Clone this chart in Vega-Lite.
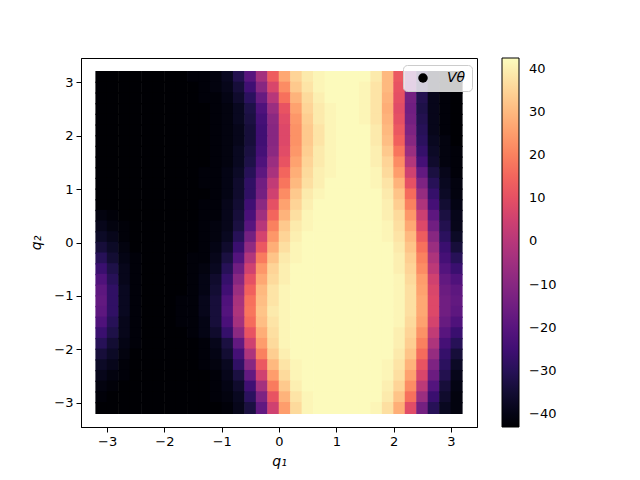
{
"$schema": "https://vega.github.io/schema/vega-lite/v6.json",
"width": 396, "height": 369,
"autosize": {"type": "none"},
"padding": {"left": 81, "top": 58, "right": 163, "bottom": 53},
"config": {
 "font": "DejaVu Sans",
 "view": {"stroke": "black", "strokeWidth": 1},
 "axis": {"grid": false, "domainColor": "black", "tickColor": "black", "tickSize": 5, "labelColor": "black", "labelFontSize": 13, "labelPadding": 3, "titleFontSize": 14, "titleFontWeight": "normal", "titleFontStyle": "italic", "titleColor": "black"}
},
"data": {"values": [
{"q1":-3.1,"q2":3.1,"v":-43},{"q1":-2.9,"q2":3.1,"v":-43},{"q1":-2.7,"q2":3.1,"v":-43},{"q1":-2.5,"q2":3.1,"v":-43},{"q1":-2.3,"q2":3.1,"v":-43},{"q1":-2.1,"q2":3.1,"v":-43},{"q1":-1.9,"q2":3.1,"v":-43},{"q1":-1.7,"q2":3.1,"v":-43},{"q1":-1.5,"q2":3.1,"v":-42},{"q1":-1.3,"q2":3.1,"v":-42},{"q1":-1.1,"q2":3.1,"v":-41},{"q1":-0.9,"q2":3.1,"v":-38},{"q1":-0.7,"q2":3.1,"v":-31},{"q1":-0.5,"q2":3.1,"v":-20},{"q1":-0.3,"q2":3.1,"v":-4},{"q1":-0.1,"q2":3.1,"v":13},{"q1":0.1,"q2":3.1,"v":27},{"q1":0.3,"q2":3.1,"v":35},{"q1":0.5,"q2":3.1,"v":39},{"q1":0.7,"q2":3.1,"v":41},{"q1":0.9,"q2":3.1,"v":42},{"q1":1.1,"q2":3.1,"v":42},{"q1":1.3,"q2":3.1,"v":42},{"q1":1.5,"q2":3.1,"v":42},{"q1":1.7,"q2":3.1,"v":39},{"q1":1.9,"q2":3.1,"v":30},{"q1":2.1,"q2":3.1,"v":12},{"q1":2.3,"q2":3.1,"v":-12},{"q1":2.5,"q2":3.1,"v":-30},{"q1":2.7,"q2":3.1,"v":-39},{"q1":2.9,"q2":3.1,"v":-42},{"q1":3.1,"q2":3.1,"v":-43},
{"q1":-3.1,"q2":2.9,"v":-43},{"q1":-2.9,"q2":2.9,"v":-43},{"q1":-2.7,"q2":2.9,"v":-43},{"q1":-2.5,"q2":2.9,"v":-43},{"q1":-2.3,"q2":2.9,"v":-43},{"q1":-2.1,"q2":2.9,"v":-43},{"q1":-1.9,"q2":2.9,"v":-43},{"q1":-1.7,"q2":2.9,"v":-43},{"q1":-1.5,"q2":2.9,"v":-43},{"q1":-1.3,"q2":2.9,"v":-42},{"q1":-1.1,"q2":2.9,"v":-41},{"q1":-0.9,"q2":2.9,"v":-39},{"q1":-0.7,"q2":2.9,"v":-34},{"q1":-0.5,"q2":2.9,"v":-25},{"q1":-0.3,"q2":2.9,"v":-10},{"q1":-0.1,"q2":2.9,"v":7},{"q1":0.1,"q2":2.9,"v":22},{"q1":0.3,"q2":2.9,"v":33},{"q1":0.5,"q2":2.9,"v":38},{"q1":0.7,"q2":2.9,"v":41},{"q1":0.9,"q2":2.9,"v":42},{"q1":1.1,"q2":2.9,"v":42},{"q1":1.3,"q2":2.9,"v":42},{"q1":1.5,"q2":2.9,"v":41},{"q1":1.7,"q2":2.9,"v":38},{"q1":1.9,"q2":2.9,"v":30},{"q1":2.1,"q2":2.9,"v":11},{"q1":2.3,"q2":2.9,"v":-13},{"q1":2.5,"q2":2.9,"v":-31},{"q1":2.7,"q2":2.9,"v":-39},{"q1":2.9,"q2":2.9,"v":-42},{"q1":3.1,"q2":2.9,"v":-43},
{"q1":-3.1,"q2":2.7,"v":-43},{"q1":-2.9,"q2":2.7,"v":-43},{"q1":-2.7,"q2":2.7,"v":-43},{"q1":-2.5,"q2":2.7,"v":-43},{"q1":-2.3,"q2":2.7,"v":-43},{"q1":-2.1,"q2":2.7,"v":-43},{"q1":-1.9,"q2":2.7,"v":-43},{"q1":-1.7,"q2":2.7,"v":-43},{"q1":-1.5,"q2":2.7,"v":-43},{"q1":-1.3,"q2":2.7,"v":-42},{"q1":-1.1,"q2":2.7,"v":-42},{"q1":-0.9,"q2":2.7,"v":-40},{"q1":-0.7,"q2":2.7,"v":-36},{"q1":-0.5,"q2":2.7,"v":-29},{"q1":-0.3,"q2":2.7,"v":-17},{"q1":-0.1,"q2":2.7,"v":0},{"q1":0.1,"q2":2.7,"v":17},{"q1":0.3,"q2":2.7,"v":29},{"q1":0.5,"q2":2.7,"v":36},{"q1":0.7,"q2":2.7,"v":40},{"q1":0.9,"q2":2.7,"v":42},{"q1":1.1,"q2":2.7,"v":42},{"q1":1.3,"q2":2.7,"v":42},{"q1":1.5,"q2":2.7,"v":41},{"q1":1.7,"q2":2.7,"v":38},{"q1":1.9,"q2":2.7,"v":29},{"q1":2.1,"q2":2.7,"v":10},{"q1":2.3,"q2":2.7,"v":-14},{"q1":2.5,"q2":2.7,"v":-31},{"q1":2.7,"q2":2.7,"v":-39},{"q1":2.9,"q2":2.7,"v":-42},{"q1":3.1,"q2":2.7,"v":-43},
{"q1":-3.1,"q2":2.5,"v":-43},{"q1":-2.9,"q2":2.5,"v":-43},{"q1":-2.7,"q2":2.5,"v":-43},{"q1":-2.5,"q2":2.5,"v":-43},{"q1":-2.3,"q2":2.5,"v":-43},{"q1":-2.1,"q2":2.5,"v":-43},{"q1":-1.9,"q2":2.5,"v":-43},{"q1":-1.7,"q2":2.5,"v":-43},{"q1":-1.5,"q2":2.5,"v":-43},{"q1":-1.3,"q2":2.5,"v":-43},{"q1":-1.1,"q2":2.5,"v":-42},{"q1":-0.9,"q2":2.5,"v":-41},{"q1":-0.7,"q2":2.5,"v":-38},{"q1":-0.5,"q2":2.5,"v":-32},{"q1":-0.3,"q2":2.5,"v":-22},{"q1":-0.1,"q2":2.5,"v":-6},{"q1":0.1,"q2":2.5,"v":11},{"q1":0.3,"q2":2.5,"v":26},{"q1":0.5,"q2":2.5,"v":35},{"q1":0.7,"q2":2.5,"v":39},{"q1":0.9,"q2":2.5,"v":41},{"q1":1.1,"q2":2.5,"v":42},{"q1":1.3,"q2":2.5,"v":42},{"q1":1.5,"q2":2.5,"v":41},{"q1":1.7,"q2":2.5,"v":38},{"q1":1.9,"q2":2.5,"v":28},{"q1":2.1,"q2":2.5,"v":9},{"q1":2.3,"q2":2.5,"v":-15},{"q1":2.5,"q2":2.5,"v":-32},{"q1":2.7,"q2":2.5,"v":-39},{"q1":2.9,"q2":2.5,"v":-42},{"q1":3.1,"q2":2.5,"v":-43},
{"q1":-3.1,"q2":2.3,"v":-43},{"q1":-2.9,"q2":2.3,"v":-43},{"q1":-2.7,"q2":2.3,"v":-43},{"q1":-2.5,"q2":2.3,"v":-43},{"q1":-2.3,"q2":2.3,"v":-43},{"q1":-2.1,"q2":2.3,"v":-43},{"q1":-1.9,"q2":2.3,"v":-43},{"q1":-1.7,"q2":2.3,"v":-43},{"q1":-1.5,"q2":2.3,"v":-43},{"q1":-1.3,"q2":2.3,"v":-43},{"q1":-1.1,"q2":2.3,"v":-42},{"q1":-0.9,"q2":2.3,"v":-41},{"q1":-0.7,"q2":2.3,"v":-38},{"q1":-0.5,"q2":2.3,"v":-33},{"q1":-0.3,"q2":2.3,"v":-24},{"q1":-0.1,"q2":2.3,"v":-9},{"q1":0.1,"q2":2.3,"v":9},{"q1":0.3,"q2":2.3,"v":24},{"q1":0.5,"q2":2.3,"v":34},{"q1":0.7,"q2":2.3,"v":39},{"q1":0.9,"q2":2.3,"v":41},{"q1":1.1,"q2":2.3,"v":42},{"q1":1.3,"q2":2.3,"v":42},{"q1":1.5,"q2":2.3,"v":41},{"q1":1.7,"q2":2.3,"v":38},{"q1":1.9,"q2":2.3,"v":29},{"q1":2.1,"q2":2.3,"v":10},{"q1":2.3,"q2":2.3,"v":-14},{"q1":2.5,"q2":2.3,"v":-31},{"q1":2.7,"q2":2.3,"v":-39},{"q1":2.9,"q2":2.3,"v":-42},{"q1":3.1,"q2":2.3,"v":-43},
{"q1":-3.1,"q2":2.1,"v":-43},{"q1":-2.9,"q2":2.1,"v":-43},{"q1":-2.7,"q2":2.1,"v":-43},{"q1":-2.5,"q2":2.1,"v":-43},{"q1":-2.3,"q2":2.1,"v":-43},{"q1":-2.1,"q2":2.1,"v":-43},{"q1":-1.9,"q2":2.1,"v":-43},{"q1":-1.7,"q2":2.1,"v":-43},{"q1":-1.5,"q2":2.1,"v":-43},{"q1":-1.3,"q2":2.1,"v":-43},{"q1":-1.1,"q2":2.1,"v":-42},{"q1":-0.9,"q2":2.1,"v":-41},{"q1":-0.7,"q2":2.1,"v":-39},{"q1":-0.5,"q2":2.1,"v":-34},{"q1":-0.3,"q2":2.1,"v":-25},{"q1":-0.1,"q2":2.1,"v":-10},{"q1":0.1,"q2":2.1,"v":8},{"q1":0.3,"q2":2.1,"v":23},{"q1":0.5,"q2":2.1,"v":33},{"q1":0.7,"q2":2.1,"v":38},{"q1":0.9,"q2":2.1,"v":41},{"q1":1.1,"q2":2.1,"v":42},{"q1":1.3,"q2":2.1,"v":42},{"q1":1.5,"q2":2.1,"v":42},{"q1":1.7,"q2":2.1,"v":39},{"q1":1.9,"q2":2.1,"v":30},{"q1":2.1,"q2":2.1,"v":12},{"q1":2.3,"q2":2.1,"v":-12},{"q1":2.5,"q2":2.1,"v":-30},{"q1":2.7,"q2":2.1,"v":-39},{"q1":2.9,"q2":2.1,"v":-42},{"q1":3.1,"q2":2.1,"v":-43},
{"q1":-3.1,"q2":1.9,"v":-43},{"q1":-2.9,"q2":1.9,"v":-43},{"q1":-2.7,"q2":1.9,"v":-43},{"q1":-2.5,"q2":1.9,"v":-43},{"q1":-2.3,"q2":1.9,"v":-43},{"q1":-2.1,"q2":1.9,"v":-43},{"q1":-1.9,"q2":1.9,"v":-43},{"q1":-1.7,"q2":1.9,"v":-43},{"q1":-1.5,"q2":1.9,"v":-43},{"q1":-1.3,"q2":1.9,"v":-43},{"q1":-1.1,"q2":1.9,"v":-42},{"q1":-0.9,"q2":1.9,"v":-41},{"q1":-0.7,"q2":1.9,"v":-39},{"q1":-0.5,"q2":1.9,"v":-34},{"q1":-0.3,"q2":1.9,"v":-25},{"q1":-0.1,"q2":1.9,"v":-10},{"q1":0.1,"q2":1.9,"v":8},{"q1":0.3,"q2":1.9,"v":23},{"q1":0.5,"q2":1.9,"v":33},{"q1":0.7,"q2":1.9,"v":38},{"q1":0.9,"q2":1.9,"v":41},{"q1":1.1,"q2":1.9,"v":42},{"q1":1.3,"q2":1.9,"v":42},{"q1":1.5,"q2":1.9,"v":42},{"q1":1.7,"q2":1.9,"v":39},{"q1":1.9,"q2":1.9,"v":31},{"q1":2.1,"q2":1.9,"v":14},{"q1":2.3,"q2":1.9,"v":-10},{"q1":2.5,"q2":1.9,"v":-29},{"q1":2.7,"q2":1.9,"v":-38},{"q1":2.9,"q2":1.9,"v":-41},{"q1":3.1,"q2":1.9,"v":-43},
{"q1":-3.1,"q2":1.7,"v":-43},{"q1":-2.9,"q2":1.7,"v":-43},{"q1":-2.7,"q2":1.7,"v":-43},{"q1":-2.5,"q2":1.7,"v":-43},{"q1":-2.3,"q2":1.7,"v":-43},{"q1":-2.1,"q2":1.7,"v":-43},{"q1":-1.9,"q2":1.7,"v":-43},{"q1":-1.7,"q2":1.7,"v":-43},{"q1":-1.5,"q2":1.7,"v":-43},{"q1":-1.3,"q2":1.7,"v":-43},{"q1":-1.1,"q2":1.7,"v":-42},{"q1":-0.9,"q2":1.7,"v":-41},{"q1":-0.7,"q2":1.7,"v":-38},{"q1":-0.5,"q2":1.7,"v":-33},{"q1":-0.3,"q2":1.7,"v":-24},{"q1":-0.1,"q2":1.7,"v":-9},{"q1":0.1,"q2":1.7,"v":9},{"q1":0.3,"q2":1.7,"v":24},{"q1":0.5,"q2":1.7,"v":34},{"q1":0.7,"q2":1.7,"v":39},{"q1":0.9,"q2":1.7,"v":41},{"q1":1.1,"q2":1.7,"v":42},{"q1":1.3,"q2":1.7,"v":42},{"q1":1.5,"q2":1.7,"v":42},{"q1":1.7,"q2":1.7,"v":40},{"q1":1.9,"q2":1.7,"v":33},{"q1":2.1,"q2":1.7,"v":18},{"q1":2.3,"q2":1.7,"v":-6},{"q1":2.5,"q2":1.7,"v":-27},{"q1":2.7,"q2":1.7,"v":-37},{"q1":2.9,"q2":1.7,"v":-41},{"q1":3.1,"q2":1.7,"v":-42},
{"q1":-3.1,"q2":1.5,"v":-43},{"q1":-2.9,"q2":1.5,"v":-43},{"q1":-2.7,"q2":1.5,"v":-43},{"q1":-2.5,"q2":1.5,"v":-43},{"q1":-2.3,"q2":1.5,"v":-43},{"q1":-2.1,"q2":1.5,"v":-43},{"q1":-1.9,"q2":1.5,"v":-43},{"q1":-1.7,"q2":1.5,"v":-43},{"q1":-1.5,"q2":1.5,"v":-43},{"q1":-1.3,"q2":1.5,"v":-43},{"q1":-1.1,"q2":1.5,"v":-42},{"q1":-0.9,"q2":1.5,"v":-41},{"q1":-0.7,"q2":1.5,"v":-38},{"q1":-0.5,"q2":1.5,"v":-32},{"q1":-0.3,"q2":1.5,"v":-22},{"q1":-0.1,"q2":1.5,"v":-6},{"q1":0.1,"q2":1.5,"v":11},{"q1":0.3,"q2":1.5,"v":26},{"q1":0.5,"q2":1.5,"v":35},{"q1":0.7,"q2":1.5,"v":39},{"q1":0.9,"q2":1.5,"v":41},{"q1":1.1,"q2":1.5,"v":42},{"q1":1.3,"q2":1.5,"v":42},{"q1":1.5,"q2":1.5,"v":42},{"q1":1.7,"q2":1.5,"v":40},{"q1":1.9,"q2":1.5,"v":35},{"q1":2.1,"q2":1.5,"v":22},{"q1":2.3,"q2":1.5,"v":-1},{"q1":2.5,"q2":1.5,"v":-24},{"q1":2.7,"q2":1.5,"v":-36},{"q1":2.9,"q2":1.5,"v":-41},{"q1":3.1,"q2":1.5,"v":-42},
{"q1":-3.1,"q2":1.3,"v":-43},{"q1":-2.9,"q2":1.3,"v":-43},{"q1":-2.7,"q2":1.3,"v":-43},{"q1":-2.5,"q2":1.3,"v":-43},{"q1":-2.3,"q2":1.3,"v":-43},{"q1":-2.1,"q2":1.3,"v":-43},{"q1":-1.9,"q2":1.3,"v":-43},{"q1":-1.7,"q2":1.3,"v":-43},{"q1":-1.5,"q2":1.3,"v":-43},{"q1":-1.3,"q2":1.3,"v":-42},{"q1":-1.1,"q2":1.3,"v":-42},{"q1":-0.9,"q2":1.3,"v":-40},{"q1":-0.7,"q2":1.3,"v":-37},{"q1":-0.5,"q2":1.3,"v":-30},{"q1":-0.3,"q2":1.3,"v":-19},{"q1":-0.1,"q2":1.3,"v":-3},{"q1":0.1,"q2":1.3,"v":15},{"q1":0.3,"q2":1.3,"v":28},{"q1":0.5,"q2":1.3,"v":36},{"q1":0.7,"q2":1.3,"v":40},{"q1":0.9,"q2":1.3,"v":41},{"q1":1.1,"q2":1.3,"v":42},{"q1":1.3,"q2":1.3,"v":42},{"q1":1.5,"q2":1.3,"v":42},{"q1":1.7,"q2":1.3,"v":41},{"q1":1.9,"q2":1.3,"v":36},{"q1":2.1,"q2":1.3,"v":25},{"q1":2.3,"q2":1.3,"v":5},{"q1":2.5,"q2":1.3,"v":-18},{"q1":2.7,"q2":1.3,"v":-33},{"q1":2.9,"q2":1.3,"v":-39},{"q1":3.1,"q2":1.3,"v":-42},
{"q1":-3.1,"q2":1.1,"v":-43},{"q1":-2.9,"q2":1.1,"v":-43},{"q1":-2.7,"q2":1.1,"v":-43},{"q1":-2.5,"q2":1.1,"v":-43},{"q1":-2.3,"q2":1.1,"v":-43},{"q1":-2.1,"q2":1.1,"v":-43},{"q1":-1.9,"q2":1.1,"v":-43},{"q1":-1.7,"q2":1.1,"v":-43},{"q1":-1.5,"q2":1.1,"v":-43},{"q1":-1.3,"q2":1.1,"v":-42},{"q1":-1.1,"q2":1.1,"v":-42},{"q1":-0.9,"q2":1.1,"v":-40},{"q1":-0.7,"q2":1.1,"v":-36},{"q1":-0.5,"q2":1.1,"v":-28},{"q1":-0.3,"q2":1.1,"v":-15},{"q1":-0.1,"q2":1.1,"v":2},{"q1":0.1,"q2":1.1,"v":18},{"q1":0.3,"q2":1.1,"v":30},{"q1":0.5,"q2":1.1,"v":37},{"q1":0.7,"q2":1.1,"v":40},{"q1":0.9,"q2":1.1,"v":42},{"q1":1.1,"q2":1.1,"v":42},{"q1":1.3,"q2":1.1,"v":42},{"q1":1.5,"q2":1.1,"v":42},{"q1":1.7,"q2":1.1,"v":41},{"q1":1.9,"q2":1.1,"v":38},{"q1":2.1,"q2":1.1,"v":29},{"q1":2.3,"q2":1.1,"v":10},{"q1":2.5,"q2":1.1,"v":-12},{"q1":2.7,"q2":1.1,"v":-30},{"q1":2.9,"q2":1.1,"v":-38},{"q1":3.1,"q2":1.1,"v":-41},
{"q1":-3.1,"q2":0.9,"v":-43},{"q1":-2.9,"q2":0.9,"v":-43},{"q1":-2.7,"q2":0.9,"v":-43},{"q1":-2.5,"q2":0.9,"v":-43},{"q1":-2.3,"q2":0.9,"v":-43},{"q1":-2.1,"q2":0.9,"v":-43},{"q1":-1.9,"q2":0.9,"v":-43},{"q1":-1.7,"q2":0.9,"v":-43},{"q1":-1.5,"q2":0.9,"v":-43},{"q1":-1.3,"q2":0.9,"v":-43},{"q1":-1.1,"q2":0.9,"v":-42},{"q1":-0.9,"q2":0.9,"v":-40},{"q1":-0.7,"q2":0.9,"v":-36},{"q1":-0.5,"q2":0.9,"v":-28},{"q1":-0.3,"q2":0.9,"v":-14},{"q1":-0.1,"q2":0.9,"v":5},{"q1":0.1,"q2":0.9,"v":22},{"q1":0.3,"q2":0.9,"v":33},{"q1":0.5,"q2":0.9,"v":39},{"q1":0.7,"q2":0.9,"v":41},{"q1":0.9,"q2":0.9,"v":42},{"q1":1.1,"q2":0.9,"v":42},{"q1":1.3,"q2":0.9,"v":42},{"q1":1.5,"q2":0.9,"v":42},{"q1":1.7,"q2":0.9,"v":42},{"q1":1.9,"q2":0.9,"v":39},{"q1":2.1,"q2":0.9,"v":32},{"q1":2.3,"q2":0.9,"v":16},{"q1":2.5,"q2":0.9,"v":-7},{"q1":2.7,"q2":0.9,"v":-27},{"q1":2.9,"q2":0.9,"v":-37},{"q1":3.1,"q2":0.9,"v":-41},
{"q1":-3.1,"q2":0.7,"v":-43},{"q1":-2.9,"q2":0.7,"v":-43},{"q1":-2.7,"q2":0.7,"v":-43},{"q1":-2.5,"q2":0.7,"v":-43},{"q1":-2.3,"q2":0.7,"v":-43},{"q1":-2.1,"q2":0.7,"v":-43},{"q1":-1.9,"q2":0.7,"v":-43},{"q1":-1.7,"q2":0.7,"v":-43},{"q1":-1.5,"q2":0.7,"v":-43},{"q1":-1.3,"q2":0.7,"v":-42},{"q1":-1.1,"q2":0.7,"v":-42},{"q1":-0.9,"q2":0.7,"v":-39},{"q1":-0.7,"q2":0.7,"v":-35},{"q1":-0.5,"q2":0.7,"v":-25},{"q1":-0.3,"q2":0.7,"v":-9},{"q1":-0.1,"q2":0.7,"v":10},{"q1":0.1,"q2":0.7,"v":26},{"q1":0.3,"q2":0.7,"v":35},{"q1":0.5,"q2":0.7,"v":40},{"q1":0.7,"q2":0.7,"v":42},{"q1":0.9,"q2":0.7,"v":42},{"q1":1.1,"q2":0.7,"v":42},{"q1":1.3,"q2":0.7,"v":42},{"q1":1.5,"q2":0.7,"v":42},{"q1":1.7,"q2":0.7,"v":42},{"q1":1.9,"q2":0.7,"v":40},{"q1":2.1,"q2":0.7,"v":34},{"q1":2.3,"q2":0.7,"v":20},{"q1":2.5,"q2":0.7,"v":-2},{"q1":2.7,"q2":0.7,"v":-24},{"q1":2.9,"q2":0.7,"v":-35},{"q1":3.1,"q2":0.7,"v":-40},
{"q1":-3.1,"q2":0.5,"v":-41},{"q1":-2.9,"q2":0.5,"v":-42},{"q1":-2.7,"q2":0.5,"v":-43},{"q1":-2.5,"q2":0.5,"v":-43},{"q1":-2.3,"q2":0.5,"v":-43},{"q1":-2.1,"q2":0.5,"v":-43},{"q1":-1.9,"q2":0.5,"v":-43},{"q1":-1.7,"q2":0.5,"v":-43},{"q1":-1.5,"q2":0.5,"v":-43},{"q1":-1.3,"q2":0.5,"v":-42},{"q1":-1.1,"q2":0.5,"v":-42},{"q1":-0.9,"q2":0.5,"v":-39},{"q1":-0.7,"q2":0.5,"v":-34},{"q1":-0.5,"q2":0.5,"v":-23},{"q1":-0.3,"q2":0.5,"v":-5},{"q1":-0.1,"q2":0.5,"v":15},{"q1":0.1,"q2":0.5,"v":29},{"q1":0.3,"q2":0.5,"v":37},{"q1":0.5,"q2":0.5,"v":41},{"q1":0.7,"q2":0.5,"v":42},{"q1":0.9,"q2":0.5,"v":42},{"q1":1.1,"q2":0.5,"v":42},{"q1":1.3,"q2":0.5,"v":42},{"q1":1.5,"q2":0.5,"v":42},{"q1":1.7,"q2":0.5,"v":42},{"q1":1.9,"q2":0.5,"v":40},{"q1":2.1,"q2":0.5,"v":36},{"q1":2.3,"q2":0.5,"v":24},{"q1":2.5,"q2":0.5,"v":4},{"q1":2.7,"q2":0.5,"v":-19},{"q1":2.9,"q2":0.5,"v":-33},{"q1":3.1,"q2":0.5,"v":-39},
{"q1":-3.1,"q2":0.3,"v":-39},{"q1":-2.9,"q2":0.3,"v":-41},{"q1":-2.7,"q2":0.3,"v":-42},{"q1":-2.5,"q2":0.3,"v":-43},{"q1":-2.3,"q2":0.3,"v":-43},{"q1":-2.1,"q2":0.3,"v":-43},{"q1":-1.9,"q2":0.3,"v":-43},{"q1":-1.7,"q2":0.3,"v":-43},{"q1":-1.5,"q2":0.3,"v":-43},{"q1":-1.3,"q2":0.3,"v":-42},{"q1":-1.1,"q2":0.3,"v":-41},{"q1":-0.9,"q2":0.3,"v":-39},{"q1":-0.7,"q2":0.3,"v":-33},{"q1":-0.5,"q2":0.3,"v":-20},{"q1":-0.3,"q2":0.3,"v":0},{"q1":-0.1,"q2":0.3,"v":20},{"q1":0.1,"q2":0.3,"v":33},{"q1":0.3,"q2":0.3,"v":39},{"q1":0.5,"q2":0.3,"v":41},{"q1":0.7,"q2":0.3,"v":42},{"q1":0.9,"q2":0.3,"v":42},{"q1":1.1,"q2":0.3,"v":42},{"q1":1.3,"q2":0.3,"v":42},{"q1":1.5,"q2":0.3,"v":42},{"q1":1.7,"q2":0.3,"v":42},{"q1":1.9,"q2":0.3,"v":41},{"q1":2.1,"q2":0.3,"v":37},{"q1":2.3,"q2":0.3,"v":27},{"q1":2.5,"q2":0.3,"v":8},{"q1":2.7,"q2":0.3,"v":-15},{"q1":2.9,"q2":0.3,"v":-31},{"q1":3.1,"q2":0.3,"v":-39},
{"q1":-3.1,"q2":0.1,"v":-37},{"q1":-2.9,"q2":0.1,"v":-39},{"q1":-2.7,"q2":0.1,"v":-42},{"q1":-2.5,"q2":0.1,"v":-43},{"q1":-2.3,"q2":0.1,"v":-43},{"q1":-2.1,"q2":0.1,"v":-43},{"q1":-1.9,"q2":0.1,"v":-43},{"q1":-1.7,"q2":0.1,"v":-43},{"q1":-1.5,"q2":0.1,"v":-43},{"q1":-1.3,"q2":0.1,"v":-42},{"q1":-1.1,"q2":0.1,"v":-41},{"q1":-0.9,"q2":0.1,"v":-38},{"q1":-0.7,"q2":0.1,"v":-30},{"q1":-0.5,"q2":0.1,"v":-14},{"q1":-0.3,"q2":0.1,"v":6},{"q1":-0.1,"q2":0.1,"v":24},{"q1":0.1,"q2":0.1,"v":35},{"q1":0.3,"q2":0.1,"v":40},{"q1":0.5,"q2":0.1,"v":42},{"q1":0.7,"q2":0.1,"v":42},{"q1":0.9,"q2":0.1,"v":42},{"q1":1.1,"q2":0.1,"v":42},{"q1":1.3,"q2":0.1,"v":42},{"q1":1.5,"q2":0.1,"v":42},{"q1":1.7,"q2":0.1,"v":42},{"q1":1.9,"q2":0.1,"v":41},{"q1":2.1,"q2":0.1,"v":38},{"q1":2.3,"q2":0.1,"v":30},{"q1":2.5,"q2":0.1,"v":13},{"q1":2.7,"q2":0.1,"v":-10},{"q1":2.9,"q2":0.1,"v":-29},{"q1":3.1,"q2":0.1,"v":-37},
{"q1":-3.1,"q2":-0.1,"v":-34},{"q1":-2.9,"q2":-0.1,"v":-37},{"q1":-2.7,"q2":-0.1,"v":-41},{"q1":-2.5,"q2":-0.1,"v":-43},{"q1":-2.3,"q2":-0.1,"v":-43},{"q1":-2.1,"q2":-0.1,"v":-43},{"q1":-1.9,"q2":-0.1,"v":-43},{"q1":-1.7,"q2":-0.1,"v":-43},{"q1":-1.5,"q2":-0.1,"v":-43},{"q1":-1.3,"q2":-0.1,"v":-42},{"q1":-1.1,"q2":-0.1,"v":-40},{"q1":-0.9,"q2":-0.1,"v":-36},{"q1":-0.7,"q2":-0.1,"v":-26},{"q1":-0.5,"q2":-0.1,"v":-8},{"q1":-0.3,"q2":-0.1,"v":12},{"q1":-0.1,"q2":-0.1,"v":28},{"q1":0.1,"q2":-0.1,"v":37},{"q1":0.3,"q2":-0.1,"v":41},{"q1":0.5,"q2":-0.1,"v":42},{"q1":0.7,"q2":-0.1,"v":42},{"q1":0.9,"q2":-0.1,"v":42},{"q1":1.1,"q2":-0.1,"v":42},{"q1":1.3,"q2":-0.1,"v":42},{"q1":1.5,"q2":-0.1,"v":42},{"q1":1.7,"q2":-0.1,"v":42},{"q1":1.9,"q2":-0.1,"v":42},{"q1":2.1,"q2":-0.1,"v":39},{"q1":2.3,"q2":-0.1,"v":32},{"q1":2.5,"q2":-0.1,"v":17},{"q1":2.7,"q2":-0.1,"v":-6},{"q1":2.9,"q2":-0.1,"v":-26},{"q1":3.1,"q2":-0.1,"v":-34},
{"q1":-3.1,"q2":-0.3,"v":-30},{"q1":-2.9,"q2":-0.3,"v":-35},{"q1":-2.7,"q2":-0.3,"v":-40},{"q1":-2.5,"q2":-0.3,"v":-42},{"q1":-2.3,"q2":-0.3,"v":-43},{"q1":-2.1,"q2":-0.3,"v":-43},{"q1":-1.9,"q2":-0.3,"v":-43},{"q1":-1.7,"q2":-0.3,"v":-43},{"q1":-1.5,"q2":-0.3,"v":-42},{"q1":-1.3,"q2":-0.3,"v":-42},{"q1":-1.1,"q2":-0.3,"v":-39},{"q1":-0.9,"q2":-0.3,"v":-33},{"q1":-0.7,"q2":-0.3,"v":-21},{"q1":-0.5,"q2":-0.3,"v":-1},{"q1":-0.3,"q2":-0.3,"v":19},{"q1":-0.1,"q2":-0.3,"v":32},{"q1":0.1,"q2":-0.3,"v":39},{"q1":0.3,"q2":-0.3,"v":41},{"q1":0.5,"q2":-0.3,"v":42},{"q1":0.7,"q2":-0.3,"v":42},{"q1":0.9,"q2":-0.3,"v":42},{"q1":1.1,"q2":-0.3,"v":42},{"q1":1.3,"q2":-0.3,"v":42},{"q1":1.5,"q2":-0.3,"v":42},{"q1":1.7,"q2":-0.3,"v":42},{"q1":1.9,"q2":-0.3,"v":42},{"q1":2.1,"q2":-0.3,"v":40},{"q1":2.3,"q2":-0.3,"v":34},{"q1":2.5,"q2":-0.3,"v":20},{"q1":2.7,"q2":-0.3,"v":-2},{"q1":2.9,"q2":-0.3,"v":-24},{"q1":3.1,"q2":-0.3,"v":-30},
{"q1":-3.1,"q2":-0.5,"v":-26},{"q1":-2.9,"q2":-0.5,"v":-32},{"q1":-2.7,"q2":-0.5,"v":-39},{"q1":-2.5,"q2":-0.5,"v":-42},{"q1":-2.3,"q2":-0.5,"v":-43},{"q1":-2.1,"q2":-0.5,"v":-43},{"q1":-1.9,"q2":-0.5,"v":-43},{"q1":-1.7,"q2":-0.5,"v":-43},{"q1":-1.5,"q2":-0.5,"v":-42},{"q1":-1.3,"q2":-0.5,"v":-41},{"q1":-1.1,"q2":-0.5,"v":-38},{"q1":-0.9,"q2":-0.5,"v":-30},{"q1":-0.7,"q2":-0.5,"v":-15},{"q1":-0.5,"q2":-0.5,"v":5},{"q1":-0.3,"q2":-0.5,"v":24},{"q1":-0.1,"q2":-0.5,"v":35},{"q1":0.1,"q2":-0.5,"v":40},{"q1":0.3,"q2":-0.5,"v":42},{"q1":0.5,"q2":-0.5,"v":42},{"q1":0.7,"q2":-0.5,"v":42},{"q1":0.9,"q2":-0.5,"v":42},{"q1":1.1,"q2":-0.5,"v":42},{"q1":1.3,"q2":-0.5,"v":42},{"q1":1.5,"q2":-0.5,"v":42},{"q1":1.7,"q2":-0.5,"v":42},{"q1":1.9,"q2":-0.5,"v":42},{"q1":2.1,"q2":-0.5,"v":40},{"q1":2.3,"q2":-0.5,"v":35},{"q1":2.5,"q2":-0.5,"v":22},{"q1":2.7,"q2":-0.5,"v":1},{"q1":2.9,"q2":-0.5,"v":-21},{"q1":3.1,"q2":-0.5,"v":-26},
{"q1":-3.1,"q2":-0.7,"v":-22},{"q1":-2.9,"q2":-0.7,"v":-30},{"q1":-2.7,"q2":-0.7,"v":-39},{"q1":-2.5,"q2":-0.7,"v":-42},{"q1":-2.3,"q2":-0.7,"v":-43},{"q1":-2.1,"q2":-0.7,"v":-43},{"q1":-1.9,"q2":-0.7,"v":-43},{"q1":-1.7,"q2":-0.7,"v":-43},{"q1":-1.5,"q2":-0.7,"v":-42},{"q1":-1.3,"q2":-0.7,"v":-40},{"q1":-1.1,"q2":-0.7,"v":-36},{"q1":-0.9,"q2":-0.7,"v":-27},{"q1":-0.7,"q2":-0.7,"v":-10},{"q1":-0.5,"q2":-0.7,"v":10},{"q1":-0.3,"q2":-0.7,"v":27},{"q1":-0.1,"q2":-0.7,"v":36},{"q1":0.1,"q2":-0.7,"v":40},{"q1":0.3,"q2":-0.7,"v":42},{"q1":0.5,"q2":-0.7,"v":42},{"q1":0.7,"q2":-0.7,"v":42},{"q1":0.9,"q2":-0.7,"v":42},{"q1":1.1,"q2":-0.7,"v":42},{"q1":1.3,"q2":-0.7,"v":42},{"q1":1.5,"q2":-0.7,"v":42},{"q1":1.7,"q2":-0.7,"v":42},{"q1":1.9,"q2":-0.7,"v":42},{"q1":2.1,"q2":-0.7,"v":41},{"q1":2.3,"q2":-0.7,"v":36},{"q1":2.5,"q2":-0.7,"v":25},{"q1":2.7,"q2":-0.7,"v":5},{"q1":2.9,"q2":-0.7,"v":-18},{"q1":3.1,"q2":-0.7,"v":-22},
{"q1":-3.1,"q2":-0.9,"v":-19},{"q1":-2.9,"q2":-0.9,"v":-28},{"q1":-2.7,"q2":-0.9,"v":-38},{"q1":-2.5,"q2":-0.9,"v":-42},{"q1":-2.3,"q2":-0.9,"v":-43},{"q1":-2.1,"q2":-0.9,"v":-43},{"q1":-1.9,"q2":-0.9,"v":-43},{"q1":-1.7,"q2":-0.9,"v":-43},{"q1":-1.5,"q2":-0.9,"v":-42},{"q1":-1.3,"q2":-0.9,"v":-40},{"q1":-1.1,"q2":-0.9,"v":-35},{"q1":-0.9,"q2":-0.9,"v":-25},{"q1":-0.7,"q2":-0.9,"v":-6},{"q1":-0.5,"q2":-0.9,"v":14},{"q1":-0.3,"q2":-0.9,"v":30},{"q1":-0.1,"q2":-0.9,"v":38},{"q1":0.1,"q2":-0.9,"v":41},{"q1":0.3,"q2":-0.9,"v":42},{"q1":0.5,"q2":-0.9,"v":42},{"q1":0.7,"q2":-0.9,"v":42},{"q1":0.9,"q2":-0.9,"v":42},{"q1":1.1,"q2":-0.9,"v":42},{"q1":1.3,"q2":-0.9,"v":42},{"q1":1.5,"q2":-0.9,"v":42},{"q1":1.7,"q2":-0.9,"v":42},{"q1":1.9,"q2":-0.9,"v":42},{"q1":2.1,"q2":-0.9,"v":41},{"q1":2.3,"q2":-0.9,"v":37},{"q1":2.5,"q2":-0.9,"v":26},{"q1":2.7,"q2":-0.9,"v":7},{"q1":2.9,"q2":-0.9,"v":-16},{"q1":3.1,"q2":-0.9,"v":-19},
{"q1":-3.1,"q2":-1.1,"v":-18},{"q1":-2.9,"q2":-1.1,"v":-28},{"q1":-2.7,"q2":-1.1,"v":-38},{"q1":-2.5,"q2":-1.1,"v":-42},{"q1":-2.3,"q2":-1.1,"v":-43},{"q1":-2.1,"q2":-1.1,"v":-43},{"q1":-1.9,"q2":-1.1,"v":-43},{"q1":-1.7,"q2":-1.1,"v":-42},{"q1":-1.5,"q2":-1.1,"v":-42},{"q1":-1.3,"q2":-1.1,"v":-39},{"q1":-1.1,"q2":-1.1,"v":-34},{"q1":-0.9,"q2":-1.1,"v":-22},{"q1":-0.7,"q2":-1.1,"v":-3},{"q1":-0.5,"q2":-1.1,"v":17},{"q1":-0.3,"q2":-1.1,"v":31},{"q1":-0.1,"q2":-1.1,"v":38},{"q1":0.1,"q2":-1.1,"v":41},{"q1":0.3,"q2":-1.1,"v":42},{"q1":0.5,"q2":-1.1,"v":42},{"q1":0.7,"q2":-1.1,"v":42},{"q1":0.9,"q2":-1.1,"v":42},{"q1":1.1,"q2":-1.1,"v":42},{"q1":1.3,"q2":-1.1,"v":42},{"q1":1.5,"q2":-1.1,"v":42},{"q1":1.7,"q2":-1.1,"v":42},{"q1":1.9,"q2":-1.1,"v":42},{"q1":2.1,"q2":-1.1,"v":41},{"q1":2.3,"q2":-1.1,"v":37},{"q1":2.5,"q2":-1.1,"v":27},{"q1":2.7,"q2":-1.1,"v":8},{"q1":2.9,"q2":-1.1,"v":-15},{"q1":3.1,"q2":-1.1,"v":-18},
{"q1":-3.1,"q2":-1.3,"v":-19},{"q1":-2.9,"q2":-1.3,"v":-28},{"q1":-2.7,"q2":-1.3,"v":-38},{"q1":-2.5,"q2":-1.3,"v":-42},{"q1":-2.3,"q2":-1.3,"v":-43},{"q1":-2.1,"q2":-1.3,"v":-43},{"q1":-1.9,"q2":-1.3,"v":-43},{"q1":-1.7,"q2":-1.3,"v":-42},{"q1":-1.5,"q2":-1.3,"v":-42},{"q1":-1.3,"q2":-1.3,"v":-39},{"q1":-1.1,"q2":-1.3,"v":-34},{"q1":-0.9,"q2":-1.3,"v":-21},{"q1":-0.7,"q2":-1.3,"v":-2},{"q1":-0.5,"q2":-1.3,"v":18},{"q1":-0.3,"q2":-1.3,"v":32},{"q1":-0.1,"q2":-1.3,"v":39},{"q1":0.1,"q2":-1.3,"v":41},{"q1":0.3,"q2":-1.3,"v":42},{"q1":0.5,"q2":-1.3,"v":42},{"q1":0.7,"q2":-1.3,"v":42},{"q1":0.9,"q2":-1.3,"v":42},{"q1":1.1,"q2":-1.3,"v":42},{"q1":1.3,"q2":-1.3,"v":42},{"q1":1.5,"q2":-1.3,"v":42},{"q1":1.7,"q2":-1.3,"v":42},{"q1":1.9,"q2":-1.3,"v":42},{"q1":2.1,"q2":-1.3,"v":41},{"q1":2.3,"q2":-1.3,"v":37},{"q1":2.5,"q2":-1.3,"v":27},{"q1":2.7,"q2":-1.3,"v":8},{"q1":2.9,"q2":-1.3,"v":-15},{"q1":3.1,"q2":-1.3,"v":-19},
{"q1":-3.1,"q2":-1.5,"v":-22},{"q1":-2.9,"q2":-1.5,"v":-30},{"q1":-2.7,"q2":-1.5,"v":-39},{"q1":-2.5,"q2":-1.5,"v":-42},{"q1":-2.3,"q2":-1.5,"v":-43},{"q1":-2.1,"q2":-1.5,"v":-43},{"q1":-1.9,"q2":-1.5,"v":-43},{"q1":-1.7,"q2":-1.5,"v":-42},{"q1":-1.5,"q2":-1.5,"v":-42},{"q1":-1.3,"q2":-1.5,"v":-40},{"q1":-1.1,"q2":-1.5,"v":-34},{"q1":-0.9,"q2":-1.5,"v":-23},{"q1":-0.7,"q2":-1.5,"v":-4},{"q1":-0.5,"q2":-1.5,"v":16},{"q1":-0.3,"q2":-1.5,"v":31},{"q1":-0.1,"q2":-1.5,"v":38},{"q1":0.1,"q2":-1.5,"v":41},{"q1":0.3,"q2":-1.5,"v":42},{"q1":0.5,"q2":-1.5,"v":42},{"q1":0.7,"q2":-1.5,"v":42},{"q1":0.9,"q2":-1.5,"v":42},{"q1":1.1,"q2":-1.5,"v":42},{"q1":1.3,"q2":-1.5,"v":42},{"q1":1.5,"q2":-1.5,"v":42},{"q1":1.7,"q2":-1.5,"v":42},{"q1":1.9,"q2":-1.5,"v":42},{"q1":2.1,"q2":-1.5,"v":41},{"q1":2.3,"q2":-1.5,"v":36},{"q1":2.5,"q2":-1.5,"v":26},{"q1":2.7,"q2":-1.5,"v":6},{"q1":2.9,"q2":-1.5,"v":-17},{"q1":3.1,"q2":-1.5,"v":-22},
{"q1":-3.1,"q2":-1.7,"v":-26},{"q1":-2.9,"q2":-1.7,"v":-32},{"q1":-2.7,"q2":-1.7,"v":-39},{"q1":-2.5,"q2":-1.7,"v":-42},{"q1":-2.3,"q2":-1.7,"v":-43},{"q1":-2.1,"q2":-1.7,"v":-43},{"q1":-1.9,"q2":-1.7,"v":-43},{"q1":-1.7,"q2":-1.7,"v":-43},{"q1":-1.5,"q2":-1.7,"v":-42},{"q1":-1.3,"q2":-1.7,"v":-40},{"q1":-1.1,"q2":-1.7,"v":-36},{"q1":-0.9,"q2":-1.7,"v":-27},{"q1":-0.7,"q2":-1.7,"v":-9},{"q1":-0.5,"q2":-1.7,"v":11},{"q1":-0.3,"q2":-1.7,"v":28},{"q1":-0.1,"q2":-1.7,"v":37},{"q1":0.1,"q2":-1.7,"v":41},{"q1":0.3,"q2":-1.7,"v":42},{"q1":0.5,"q2":-1.7,"v":42},{"q1":0.7,"q2":-1.7,"v":42},{"q1":0.9,"q2":-1.7,"v":42},{"q1":1.1,"q2":-1.7,"v":42},{"q1":1.3,"q2":-1.7,"v":42},{"q1":1.5,"q2":-1.7,"v":42},{"q1":1.7,"q2":-1.7,"v":42},{"q1":1.9,"q2":-1.7,"v":42},{"q1":2.1,"q2":-1.7,"v":40},{"q1":2.3,"q2":-1.7,"v":35},{"q1":2.5,"q2":-1.7,"v":23},{"q1":2.7,"q2":-1.7,"v":2},{"q1":2.9,"q2":-1.7,"v":-20},{"q1":3.1,"q2":-1.7,"v":-26},
{"q1":-3.1,"q2":-1.9,"v":-30},{"q1":-2.9,"q2":-1.9,"v":-35},{"q1":-2.7,"q2":-1.9,"v":-40},{"q1":-2.5,"q2":-1.9,"v":-42},{"q1":-2.3,"q2":-1.9,"v":-43},{"q1":-2.1,"q2":-1.9,"v":-43},{"q1":-1.9,"q2":-1.9,"v":-43},{"q1":-1.7,"q2":-1.9,"v":-43},{"q1":-1.5,"q2":-1.9,"v":-43},{"q1":-1.3,"q2":-1.9,"v":-42},{"q1":-1.1,"q2":-1.9,"v":-39},{"q1":-0.9,"q2":-1.9,"v":-33},{"q1":-0.7,"q2":-1.9,"v":-18},{"q1":-0.5,"q2":-1.9,"v":5},{"q1":-0.3,"q2":-1.9,"v":25},{"q1":-0.1,"q2":-1.9,"v":36},{"q1":0.1,"q2":-1.9,"v":41},{"q1":0.3,"q2":-1.9,"v":42},{"q1":0.5,"q2":-1.9,"v":42},{"q1":0.7,"q2":-1.9,"v":42},{"q1":0.9,"q2":-1.9,"v":42},{"q1":1.1,"q2":-1.9,"v":42},{"q1":1.3,"q2":-1.9,"v":42},{"q1":1.5,"q2":-1.9,"v":42},{"q1":1.7,"q2":-1.9,"v":42},{"q1":1.9,"q2":-1.9,"v":42},{"q1":2.1,"q2":-1.9,"v":40},{"q1":2.3,"q2":-1.9,"v":34},{"q1":2.5,"q2":-1.9,"v":20},{"q1":2.7,"q2":-1.9,"v":-2},{"q1":2.9,"q2":-1.9,"v":-24},{"q1":3.1,"q2":-1.9,"v":-30},
{"q1":-3.1,"q2":-2.1,"v":-34},{"q1":-2.9,"q2":-2.1,"v":-37},{"q1":-2.7,"q2":-2.1,"v":-41},{"q1":-2.5,"q2":-2.1,"v":-43},{"q1":-2.3,"q2":-2.1,"v":-43},{"q1":-2.1,"q2":-2.1,"v":-43},{"q1":-1.9,"q2":-2.1,"v":-43},{"q1":-1.7,"q2":-2.1,"v":-43},{"q1":-1.5,"q2":-2.1,"v":-43},{"q1":-1.3,"q2":-2.1,"v":-42},{"q1":-1.1,"q2":-2.1,"v":-40},{"q1":-0.9,"q2":-2.1,"v":-35},{"q1":-0.7,"q2":-2.1,"v":-24},{"q1":-0.5,"q2":-2.1,"v":-2},{"q1":-0.3,"q2":-2.1,"v":20},{"q1":-0.1,"q2":-2.1,"v":34},{"q1":0.1,"q2":-2.1,"v":40},{"q1":0.3,"q2":-2.1,"v":42},{"q1":0.5,"q2":-2.1,"v":42},{"q1":0.7,"q2":-2.1,"v":42},{"q1":0.9,"q2":-2.1,"v":42},{"q1":1.1,"q2":-2.1,"v":42},{"q1":1.3,"q2":-2.1,"v":42},{"q1":1.5,"q2":-2.1,"v":42},{"q1":1.7,"q2":-2.1,"v":42},{"q1":1.9,"q2":-2.1,"v":42},{"q1":2.1,"q2":-2.1,"v":39},{"q1":2.3,"q2":-2.1,"v":32},{"q1":2.5,"q2":-2.1,"v":16},{"q1":2.7,"q2":-2.1,"v":-7},{"q1":2.9,"q2":-2.1,"v":-27},{"q1":3.1,"q2":-2.1,"v":-34},
{"q1":-3.1,"q2":-2.3,"v":-37},{"q1":-2.9,"q2":-2.3,"v":-39},{"q1":-2.7,"q2":-2.3,"v":-42},{"q1":-2.5,"q2":-2.3,"v":-43},{"q1":-2.3,"q2":-2.3,"v":-43},{"q1":-2.1,"q2":-2.3,"v":-43},{"q1":-1.9,"q2":-2.3,"v":-43},{"q1":-1.7,"q2":-2.3,"v":-43},{"q1":-1.5,"q2":-2.3,"v":-43},{"q1":-1.3,"q2":-2.3,"v":-42},{"q1":-1.1,"q2":-2.3,"v":-41},{"q1":-0.9,"q2":-2.3,"v":-38},{"q1":-0.7,"q2":-2.3,"v":-28},{"q1":-0.5,"q2":-2.3,"v":-10},{"q1":-0.3,"q2":-2.3,"v":12},{"q1":-0.1,"q2":-2.3,"v":30},{"q1":0.1,"q2":-2.3,"v":38},{"q1":0.3,"q2":-2.3,"v":41},{"q1":0.5,"q2":-2.3,"v":42},{"q1":0.7,"q2":-2.3,"v":42},{"q1":0.9,"q2":-2.3,"v":42},{"q1":1.1,"q2":-2.3,"v":42},{"q1":1.3,"q2":-2.3,"v":42},{"q1":1.5,"q2":-2.3,"v":42},{"q1":1.7,"q2":-2.3,"v":42},{"q1":1.9,"q2":-2.3,"v":41},{"q1":2.1,"q2":-2.3,"v":38},{"q1":2.3,"q2":-2.3,"v":29},{"q1":2.5,"q2":-2.3,"v":11},{"q1":2.7,"q2":-2.3,"v":-12},{"q1":2.9,"q2":-2.3,"v":-29},{"q1":3.1,"q2":-2.3,"v":-37},
{"q1":-3.1,"q2":-2.5,"v":-39},{"q1":-2.9,"q2":-2.5,"v":-41},{"q1":-2.7,"q2":-2.5,"v":-42},{"q1":-2.5,"q2":-2.5,"v":-43},{"q1":-2.3,"q2":-2.5,"v":-43},{"q1":-2.1,"q2":-2.5,"v":-43},{"q1":-1.9,"q2":-2.5,"v":-43},{"q1":-1.7,"q2":-2.5,"v":-43},{"q1":-1.5,"q2":-2.5,"v":-43},{"q1":-1.3,"q2":-2.5,"v":-43},{"q1":-1.1,"q2":-2.5,"v":-42},{"q1":-0.9,"q2":-2.5,"v":-39},{"q1":-0.7,"q2":-2.5,"v":-33},{"q1":-0.5,"q2":-2.5,"v":-18},{"q1":-0.3,"q2":-2.5,"v":5},{"q1":-0.1,"q2":-2.5,"v":25},{"q1":0.1,"q2":-2.5,"v":36},{"q1":0.3,"q2":-2.5,"v":41},{"q1":0.5,"q2":-2.5,"v":42},{"q1":0.7,"q2":-2.5,"v":42},{"q1":0.9,"q2":-2.5,"v":42},{"q1":1.1,"q2":-2.5,"v":42},{"q1":1.3,"q2":-2.5,"v":42},{"q1":1.5,"q2":-2.5,"v":42},{"q1":1.7,"q2":-2.5,"v":42},{"q1":1.9,"q2":-2.5,"v":41},{"q1":2.1,"q2":-2.5,"v":37},{"q1":2.3,"q2":-2.5,"v":26},{"q1":2.5,"q2":-2.5,"v":7},{"q1":2.7,"q2":-2.5,"v":-16},{"q1":2.9,"q2":-2.5,"v":-31},{"q1":3.1,"q2":-2.5,"v":-39},
{"q1":-3.1,"q2":-2.7,"v":-41},{"q1":-2.9,"q2":-2.7,"v":-42},{"q1":-2.7,"q2":-2.7,"v":-43},{"q1":-2.5,"q2":-2.7,"v":-43},{"q1":-2.3,"q2":-2.7,"v":-43},{"q1":-2.1,"q2":-2.7,"v":-43},{"q1":-1.9,"q2":-2.7,"v":-43},{"q1":-1.7,"q2":-2.7,"v":-43},{"q1":-1.5,"q2":-2.7,"v":-43},{"q1":-1.3,"q2":-2.7,"v":-43},{"q1":-1.1,"q2":-2.7,"v":-42},{"q1":-0.9,"q2":-2.7,"v":-40},{"q1":-0.7,"q2":-2.7,"v":-36},{"q1":-0.5,"q2":-2.7,"v":-25},{"q1":-0.3,"q2":-2.7,"v":-4},{"q1":-0.1,"q2":-2.7,"v":19},{"q1":0.1,"q2":-2.7,"v":33},{"q1":0.3,"q2":-2.7,"v":40},{"q1":0.5,"q2":-2.7,"v":42},{"q1":0.7,"q2":-2.7,"v":42},{"q1":0.9,"q2":-2.7,"v":42},{"q1":1.1,"q2":-2.7,"v":42},{"q1":1.3,"q2":-2.7,"v":42},{"q1":1.5,"q2":-2.7,"v":42},{"q1":1.7,"q2":-2.7,"v":42},{"q1":1.9,"q2":-2.7,"v":40},{"q1":2.1,"q2":-2.7,"v":35},{"q1":2.3,"q2":-2.7,"v":22},{"q1":2.5,"q2":-2.7,"v":1},{"q1":2.7,"q2":-2.7,"v":-21},{"q1":2.9,"q2":-2.7,"v":-34},{"q1":3.1,"q2":-2.7,"v":-40},
{"q1":-3.1,"q2":-2.9,"v":-42},{"q1":-2.9,"q2":-2.9,"v":-43},{"q1":-2.7,"q2":-2.9,"v":-43},{"q1":-2.5,"q2":-2.9,"v":-43},{"q1":-2.3,"q2":-2.9,"v":-43},{"q1":-2.1,"q2":-2.9,"v":-43},{"q1":-1.9,"q2":-2.9,"v":-43},{"q1":-1.7,"q2":-2.9,"v":-43},{"q1":-1.5,"q2":-2.9,"v":-43},{"q1":-1.3,"q2":-2.9,"v":-43},{"q1":-1.1,"q2":-2.9,"v":-42},{"q1":-0.9,"q2":-2.9,"v":-41},{"q1":-0.7,"q2":-2.9,"v":-38},{"q1":-0.5,"q2":-2.9,"v":-29},{"q1":-0.3,"q2":-2.9,"v":-12},{"q1":-0.1,"q2":-2.9,"v":11},{"q1":0.1,"q2":-2.9,"v":29},{"q1":0.3,"q2":-2.9,"v":38},{"q1":0.5,"q2":-2.9,"v":41},{"q1":0.7,"q2":-2.9,"v":42},{"q1":0.9,"q2":-2.9,"v":42},{"q1":1.1,"q2":-2.9,"v":42},{"q1":1.3,"q2":-2.9,"v":42},{"q1":1.5,"q2":-2.9,"v":42},{"q1":1.7,"q2":-2.9,"v":42},{"q1":1.9,"q2":-2.9,"v":39},{"q1":2.1,"q2":-2.9,"v":32},{"q1":2.3,"q2":-2.9,"v":17},{"q1":2.5,"q2":-2.9,"v":-6},{"q1":2.7,"q2":-2.9,"v":-26},{"q1":2.9,"q2":-2.9,"v":-36},{"q1":3.1,"q2":-2.9,"v":-41},
{"q1":-3.1,"q2":-3.1,"v":-43},{"q1":-2.9,"q2":-3.1,"v":-43},{"q1":-2.7,"q2":-3.1,"v":-43},{"q1":-2.5,"q2":-3.1,"v":-43},{"q1":-2.3,"q2":-3.1,"v":-43},{"q1":-2.1,"q2":-3.1,"v":-43},{"q1":-1.9,"q2":-3.1,"v":-43},{"q1":-1.7,"q2":-3.1,"v":-43},{"q1":-1.5,"q2":-3.1,"v":-43},{"q1":-1.3,"q2":-3.1,"v":-43},{"q1":-1.1,"q2":-3.1,"v":-43},{"q1":-0.9,"q2":-3.1,"v":-42},{"q1":-0.7,"q2":-3.1,"v":-39},{"q1":-0.5,"q2":-3.1,"v":-33},{"q1":-0.3,"q2":-3.1,"v":-18},{"q1":-0.1,"q2":-3.1,"v":5},{"q1":0.1,"q2":-3.1,"v":25},{"q1":0.3,"q2":-3.1,"v":36},{"q1":0.5,"q2":-3.1,"v":41},{"q1":0.7,"q2":-3.1,"v":42},{"q1":0.9,"q2":-3.1,"v":42},{"q1":1.1,"q2":-3.1,"v":42},{"q1":1.3,"q2":-3.1,"v":42},{"q1":1.5,"q2":-3.1,"v":42},{"q1":1.7,"q2":-3.1,"v":41},{"q1":1.9,"q2":-3.1,"v":37},{"q1":2.1,"q2":-3.1,"v":28},{"q1":2.3,"q2":-3.1,"v":9},{"q1":2.5,"q2":-3.1,"v":-14},{"q1":2.7,"q2":-3.1,"v":-30},{"q1":2.9,"q2":-3.1,"v":-38},{"q1":3.1,"q2":-3.1,"v":-41}
]},
"encoding": {
 "x": {"field": "q1", "type": "quantitative", "scale": {"domain": [-3.456, 3.456], "nice": false, "zero": false}, "axis": {"values": [-3,-2,-1,0,1,2,3], "title": "q₁", "titlePadding": 6}},
 "y": {"field": "q2", "type": "quantitative", "scale": {"domain": [-3.456, 3.456], "nice": false, "zero": false}, "axis": {"values": [-3,-2,-1,0,1,2,3], "title": "q₂", "titlePadding": 10}}
},
"layer": [
 {
  "mark": {"type": "square", "size": 144, "opacity": 1, "strokeWidth": 0},
  "encoding": {
   "color": {"field": "v", "type": "quantitative", "scale": {"scheme": "magma", "domain": [-43, 42.5]}, "legend": {"title": null, "orient": "none", "legendX": 421, "legendY": 0, "direction": "vertical", "gradientLength": 369, "gradientThickness": 17, "gradientStrokeColor": "black", "gradientStrokeWidth": 1, "values": [-40,-30,-20,-10,0,10,20,30,40], "labelFontSize": 13, "labelColor": "black", "labelOffset": 10, "labelOverlap": false, "padding": 0}}
  }
 },
 {
  "transform": [{"filter": "datum.q1 == 3.1 && datum.q2 == 3.1"}],
  "mark": {"type": "point", "filled": true, "color": "black", "size": 90, "opacity": 1, "strokeWidth": 0},
  "encoding": {
   "shape": {"datum": "Vθ", "scale": {"range": ["circle"]}, "legend": {"title": null, "orient": "none", "legendX": 322, "legendY": 7, "fillColor": "rgba(255,255,255,0.8)", "strokeColor": "#cccccc", "cornerRadius": 4, "padding": 6, "symbolSize": 90, "symbolOffset": 7, "symbolFillColor": "black", "symbolStrokeWidth": 0, "labelFontSize": 14, "labelFontStyle": "italic", "labelColor": "black", "labelOffset": 17}}
  }
 }
]
}
